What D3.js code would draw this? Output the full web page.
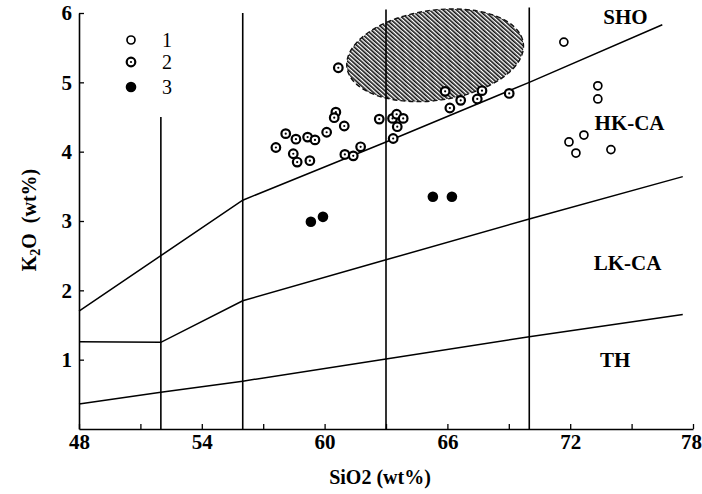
<!DOCTYPE html>
<html>
<head>
<meta charset="utf-8">
<script src="https://cdn.jsdelivr.net/npm/d3@7"></script>
<style>
  body { margin: 0; background: #fff; }
  svg text { font-family: "Liberation Serif", "Times New Roman", serif; fill: #000; }
</style>
</head>
<body>
<script>
// sample groups: [SiO2, K2O]
const group1 = [
  [71.69, 5.58], [73.35, 4.95], [73.35, 4.76], [72.67, 4.24],
  [71.94, 4.14], [72.28, 3.98], [73.99, 4.03]
];
const group2 = [
  [60.67, 5.21], [60.55, 4.57], [60.47, 4.49], [60.96, 4.37], [60.10, 4.28],
  [58.10, 4.26], [58.60, 4.18], [59.17, 4.21], [59.53, 4.17], [57.62, 4.06],
  [58.47, 3.97], [58.66, 3.85], [59.28, 3.87], [60.99, 3.96], [61.40, 3.94],
  [61.76, 4.07], [62.67, 4.47], [63.32, 4.48], [63.52, 4.54], [63.84, 4.48],
  [63.55, 4.36], [63.35, 4.19], [65.89, 4.87], [66.12, 4.63], [66.65, 4.74],
  [67.46, 4.76], [67.69, 4.88], [69.02, 4.84]
];
const group3 = [[59.33, 2.99], [59.92, 3.06], [65.29, 3.35], [66.22, 3.35]];

// field boundaries
const boundTH = [[48, 0.36], [52, 0.53], [56, 0.69], [63, 1.01], [70, 1.33], [77.5, 1.65]];
const boundLK = [[48, 1.26], [52, 1.25], [56, 1.85], [63, 2.44], [70, 3.03], [77.5, 3.64]];
const boundHK = [[48, 1.70], [52, 2.50], [56, 3.30], [63, 4.14], [70, 5.00], [76.5, 5.83]];
const dividers = [[52, 0, 4.5], [56, 0, 6], [63, 0, 6.05], [70, 0, 6.08]];

// hatched field: centre, radii (data units), tilt
const fieldEllipse = { si: 65.4, k: 5.39, rsi: 4.35, rk: 0.65, tilt: -8 };

const fieldLabels = [
  ["SHO", 74.7, 5.84], ["HK-CA", 74.9, 4.31], ["LK-CA", 74.8, 2.29], ["TH", 74.2, 0.89]
];
const legendItems = ["1", "2", "3"];
const xTicks = d3.range(48, 79, 3);
const yTicks = [1, 2, 3, 4, 5, 6];

const width = 702, height = 494;
const x = d3.scaleLinear().domain([48, 78]).range([79, 693]);
const y = d3.scaleLinear().domain([0, 6]).range([429, 13]);

const svg = d3.select("body").append("svg")
  .attr("width", width)
  .attr("height", height);

// hatch pattern
const defs = svg.append("defs");
defs.append("pattern")
  .attr("id", "hatch")
  .attr("patternUnits", "userSpaceOnUse")
  .attr("width", 3)
  .attr("height", 3)
  .attr("patternTransform", "rotate(-40)")
  .append("rect")
  .attr("x", 0).attr("y", 0).attr("width", 1.6).attr("height", 3)
  .attr("fill", "#111");

// axes
const xAxis = d3.axisBottom(x)
  .tickValues(xTicks)
  .tickSizeInner(-5)
  .tickSizeOuter(0)
  .tickPadding(5)
  .tickFormat((d) => (d % 6 === 0 ? d : ""));

svg.append("g")
  .attr("transform", `translate(0,${y(0)})`)
  .call(xAxis)
  .call((g) => g.select(".domain").attr("stroke-width", 1.6))
  .call((g) => g.selectAll(".tick line").attr("stroke-width", 1.3))
  .call((g) => g.selectAll("text").attr("font-size", 21).attr("font-weight", "bold")
    .attr("font-family", "Liberation Serif")
    .attr("dx", (d) => (d === 78 ? -2 : 0)));

const yAxis = d3.axisLeft(y)
  .tickValues(yTicks)
  .tickSizeInner(-5)
  .tickSizeOuter(0)
  .tickPadding(7)
  .tickFormat(d3.format("d"));

svg.append("g")
  .attr("transform", `translate(${x(48)},0)`)
  .call(yAxis)
  .call((g) => g.select(".domain").attr("stroke-width", 1.6))
  .call((g) => g.selectAll(".tick line").attr("stroke-width", 1.3))
  .call((g) => g.selectAll("text").attr("font-size", 21).attr("font-weight", "bold")
    .attr("font-family", "Liberation Serif"));

// axis titles
svg.append("text")
  .attr("x", 380)
  .attr("y", 484)
  .attr("text-anchor", "middle")
  .attr("font-size", 20)
  .attr("font-weight", "bold")
  .attr("xml:space", "preserve")
  .text("SiO2 (wt%)");

const yTitle = svg.append("text")
  .attr("transform", "translate(36,220) rotate(-90)")
  .attr("text-anchor", "middle")
  .attr("font-size", 20)
  .attr("font-weight", "bold")
  .attr("xml:space", "preserve");
yTitle.append("tspan").text("K");
yTitle.append("tspan").attr("font-size", 14).attr("dy", 4).text("2");
yTitle.append("tspan").attr("dy", -4).text("O  (wt%)");

// hatched field
const cx = x(fieldEllipse.si), cy = y(fieldEllipse.k);
svg.append("ellipse")
  .attr("cx", cx)
  .attr("cy", cy)
  .attr("rx", x(fieldEllipse.si + fieldEllipse.rsi) - cx)
  .attr("ry", cy - y(fieldEllipse.k + fieldEllipse.rk))
  .attr("transform", `rotate(${fieldEllipse.tilt},${cx},${cy})`)
  .attr("fill", "url(#hatch)")
  .attr("stroke", "#111")
  .attr("stroke-width", 1.4)
  .attr("stroke-dasharray", "5,3");

// divider lines
svg.append("g")
  .selectAll("line")
  .data(dividers)
  .join("line")
  .attr("x1", (d) => x(d[0]))
  .attr("x2", (d) => x(d[0]))
  .attr("y1", (d) => y(d[1]))
  .attr("y2", (d) => y(d[2]))
  .attr("stroke", "#000")
  .attr("stroke-width", 1.6);

// boundary lines
const line = d3.line().x((d) => x(d[0])).y((d) => y(d[1]));
svg.append("g")
  .selectAll("path")
  .data([boundTH, boundLK, boundHK])
  .join("path")
  .attr("d", line)
  .attr("fill", "none")
  .attr("stroke", "#000")
  .attr("stroke-width", 1.5);

// field labels
svg.append("g")
  .selectAll("text")
  .data(fieldLabels)
  .join("text")
  .attr("x", (d) => x(d[1]))
  .attr("y", (d) => y(d[2]))
  .attr("text-anchor", "middle")
  .attr("font-size", 21)
  .attr("font-weight", "bold")
  .text((d) => d[0]);

// samples
function drawOpen(g, cxp, cyp) {
  g.append("circle").attr("cx", cxp).attr("cy", cyp).attr("r", 4)
    .attr("fill", "#fff").attr("stroke", "#000").attr("stroke-width", 1.7);
}
function drawDot(g, cxp, cyp) {
  g.append("circle").attr("cx", cxp).attr("cy", cyp).attr("r", 4.3)
    .attr("fill", "#fff").attr("stroke", "#000").attr("stroke-width", 2.2);
  g.append("circle").attr("cx", cxp).attr("cy", cyp).attr("r", 1.1).attr("fill", "#000");
}
function drawFilled(g, cxp, cyp) {
  g.append("circle").attr("cx", cxp).attr("cy", cyp).attr("r", 5.3).attr("fill", "#000");
}

const pts = svg.append("g");
group1.forEach((d) => drawOpen(pts, x(d[0]), y(d[1])));
group2.forEach((d) => drawDot(pts, x(d[0]), y(d[1])));
group3.forEach((d) => drawFilled(pts, x(d[0]), y(d[1])));

// legend
const legend = svg.append("g");
const legendDraw = [drawOpen, drawDot, drawFilled];
const legendY = [40, 62, 87];
legendItems.forEach((label, i) => {
  legendDraw[i](legend, 131, legendY[i]);
  legend.append("text")
    .attr("x", 167)
    .attr("y", legendY[i] + 7)
    .attr("text-anchor", "middle")
    .attr("font-size", 20)
    .text(label);
});
</script>
</body>
</html>
